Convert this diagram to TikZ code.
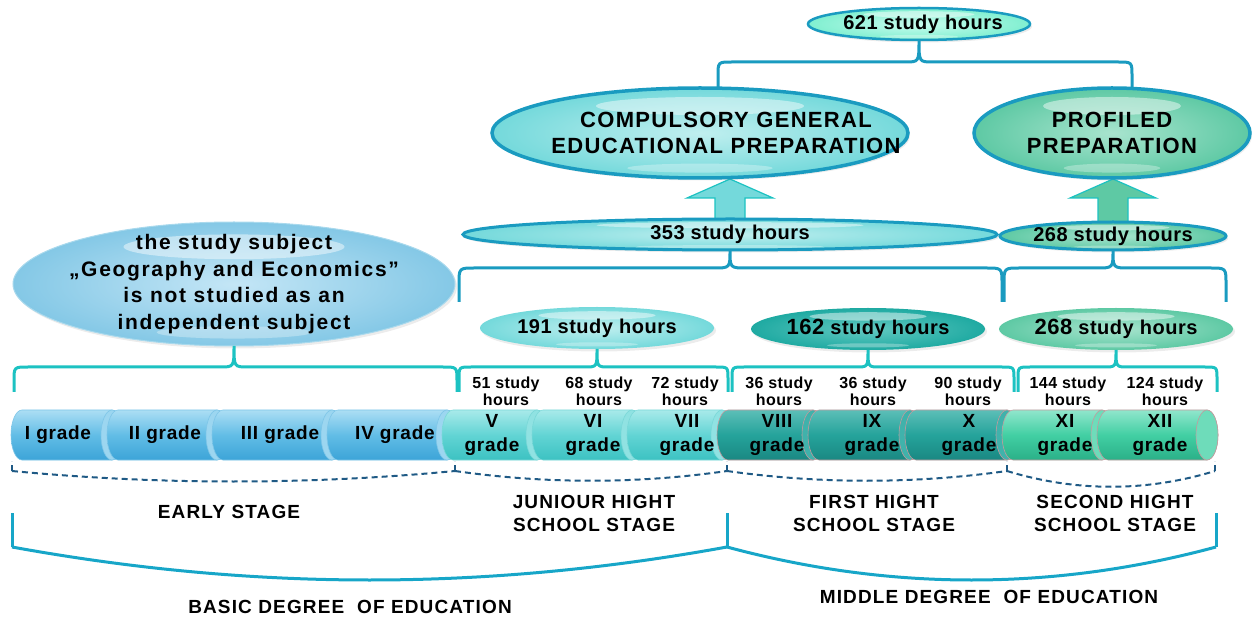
\documentclass[tikz,border=0pt]{standalone}
\usepackage{fontspec}
\setmainfont{Liberation Sans}
\newfontfamily\wideA[LetterSpace=8]{Liberation Sans}
\newfontfamily\wideB[LetterSpace=6]{Liberation Sans}
\newfontfamily\wideC[LetterSpace=4]{Liberation Sans}
\newfontfamily\wideD[LetterSpace=2.5]{Liberation Sans}
\newcommand\bignumsize{\fontsize{22}{22}\selectfont}
\usetikzlibrary{shapes.geometric,calc,backgrounds,shadows}

\definecolor{edgeblue}{HTML}{1A9BC0}
\definecolor{braceturq}{HTML}{1CC2C2}
\definecolor{bracedeep}{HTML}{17A6C8}
\definecolor{dashblue}{HTML}{1F5A85}
% oval fills
\definecolor{aquaIn}{HTML}{C8FCEE}\definecolor{aquaOut}{HTML}{80EFD0}
\definecolor{cyanIn}{HTML}{C0EFEF}\definecolor{cyanOut}{HTML}{74D9DB}
\definecolor{mintIn}{HTML}{A8E4CE}\definecolor{mintOut}{HTML}{5EC9A4}
\definecolor{skyIn}{HTML}{C4E6F6}\definecolor{skyOut}{HTML}{84C8E6}
\definecolor{tealIn}{HTML}{62C9C1}\definecolor{tealOut}{HTML}{1FAAA2}
% cylinder fills
\definecolor{bTop}{HTML}{ACDEF4}\definecolor{bMid}{HTML}{62BDE6}\definecolor{bBot}{HTML}{3CA4D8}
\definecolor{bFace}{HTML}{9CD6F0}\definecolor{bEdge}{HTML}{7EC6E8}
\definecolor{qTop}{HTML}{A8EAEA}\definecolor{qMid}{HTML}{62D4D4}\definecolor{qBot}{HTML}{3CC2C2}
\definecolor{qFace}{HTML}{90E2E2}\definecolor{qEdge}{HTML}{7AD8D8}
\definecolor{tTop}{HTML}{5CBEB7}\definecolor{tMid}{HTML}{25A39B}\definecolor{tBot}{HTML}{1A8882}
\definecolor{tFace}{HTML}{40B2AB}
\definecolor{gTop}{HTML}{90E6CC}\definecolor{gMid}{HTML}{42CFA3}\definecolor{gBot}{HTML}{2AB088}
\definecolor{gFace}{HTML}{6EDCBA}
\definecolor{rimPink}{HTML}{C49A9E}

% brace with its tip on the bottom of an oval: #1 oval, #2 left x, #3 right x,
% #4 y of the horizontal run, #5 y of the free ends, #6 corner size
\newcommand\ovalbrace[6]{%
  (#2,#5) -- (#2,#4+#6) .. controls (#2,#4) .. (#2+#6,#4)
  -- ($(#1.south |- 0,#4)+(-#6,0)$) .. controls (#1.south |- 0,#4) .. (#1.south)
  .. controls (#1.south |- 0,#4) .. ($(#1.south |- 0,#4)+(#6,0)$)
  -- (#3-#6,#4) .. controls (#3,#4) .. (#3,#4+#6) -- (#3,#5)}

% glossy highlight on an oval: #1 oval, #2 x radius, #3 y radius
\newcommand\gloss[3]{%
  \fill[white,opacity=.45] ($(#1.center)+(0,-0.6*#3)$) ellipse[x radius=0.5*#2, y radius=0.2*#3];
  \fill[white,opacity=.3] ($(#1.center)+(0,0.78*#3)$) ellipse[x radius=0.35*#2, y radius=0.1*#3];}

% one grade cylinder: #1 name, #2 left x, #3 right x, #4 colour set
\newcommand\cylseg[4]{%
  \path[cyl#4] (#2,410) arc[start angle=270,end angle=90,x radius=11,y radius=25]
     -- (#3,460) arc[start angle=90,end angle=-90,x radius=11,y radius=25] -- cycle;
  \path[face#4] (#3,435) ellipse[x radius=11, y radius=25];
  \coordinate (#1) at ({(#2+#3)/2},435);}

\begin{document}
\begin{tikzpicture}[x=1pt,y=-1pt,
  oval/.style={ellipse, inner sep=0pt, outer sep=0pt,
    drop shadow={opacity=0.15, shadow xshift=2pt, shadow yshift=-2.5pt}},
  hourtxt/.style={font=\wideD\bfseries\fontsize{20}{22}\selectfont, inner sep=0pt},
  captxt/.style={font=\wideB\bfseries\fontsize{22}{26}\selectfont, align=center, inner sep=0pt},
  geotxt/.style={font=\wideA\bfseries\fontsize{21}{26.5}\selectfont, align=center, inner sep=0pt},
  smalltxt/.style={font=\wideD\bfseries\fontsize{16}{17}\selectfont, align=center, inner sep=0pt},
  gradetxt/.style={font=\wideC\bfseries\fontsize{19}{24}\selectfont, align=center, inner sep=0pt},
  stagetxt/.style={font=\wideB\bfseries\fontsize{19}{23}\selectfont, align=center, inner sep=0pt},
  topbrace/.style={draw=edgeblue, line width=3pt},
  lowbrace/.style={draw=braceturq, line width=3pt},
  stagebrace/.style={draw=dashblue, line width=2pt, dash pattern=on 6pt off 4pt},
  degreebrace/.style={draw=bracedeep, line width=3pt},
  cylblue/.style={shade, top color=bTop, bottom color=bBot, middle color=bMid, draw=bEdge, line width=0.6pt},
  faceblue/.style={fill=bFace, draw=bEdge, line width=0.6pt},
  cylturq/.style={shade, top color=qTop, bottom color=qBot, middle color=qMid, draw=qEdge, line width=0.6pt},
  faceturq/.style={fill=qFace, draw=qEdge, line width=0.6pt},
  cylteal/.style={shade, top color=tTop, bottom color=tBot, middle color=tMid, draw=rimPink, line width=0.6pt},
  faceteal/.style={fill=tFace, draw=rimPink, line width=0.6pt},
  cylgreen/.style={shade, top color=gTop, bottom color=gBot, middle color=gMid, draw=rimPink, line width=0.6pt},
  facegreen/.style={fill=gFace, draw=rimPink, line width=0.6pt},
]
\useasboundingbox (0,0) rectangle (1253,617);

% ---------- ovals ----------
\node[oval, draw=edgeblue, line width=2.5pt, inner color=aquaIn, outer color=aquaOut,
      minimum width=222pt, minimum height=32pt] (h621) at (919,24) {};
\node[oval, draw=edgeblue, line width=3.5pt, inner color=cyanIn, outer color=cyanOut,
      minimum width=416pt, minimum height=90pt] (comp) at (700,133) {};
\node[oval, draw=edgeblue, line width=3.5pt, inner color=mintIn, outer color=mintOut,
      minimum width=276pt, minimum height=90pt] (prof) at (1112,133) {};
\node[oval, draw=edgeblue, line width=3pt, inner color=cyanIn, outer color=cyanOut,
      minimum width=534pt, minimum height=31pt] (h353) at (730,234.5) {};
\node[oval, draw=edgeblue, line width=3pt, inner color=mintIn, outer color=mintOut,
      minimum width=226pt, minimum height=28pt] (h268a) at (1113,236) {};
\node[oval, draw=skyOut!70!white, line width=1pt, inner color=skyIn, outer color=skyOut,
      minimum width=442pt, minimum height=124pt] (geo) at (234,284) {};
\node[oval, inner color=cyanIn, outer color=cyanOut,
      minimum width=234pt, minimum height=42pt] (h191) at (597,328) {};
\node[oval, inner color=tealIn, outer color=tealOut,
      minimum width=234pt, minimum height=42pt] (h162) at (868,329) {};
\node[oval, inner color=mintIn, outer color=mintOut,
      minimum width=234pt, minimum height=42pt] (h268b) at (1116,329) {};

\gloss{h621}{111}{16}
\gloss{comp}{208}{45}
\gloss{prof}{138}{45}
\gloss{h353}{267}{15.5}
\gloss{h268a}{113}{14}
\gloss{geo}{221}{62}
\gloss{h191}{117}{21}
\gloss{h162}{117}{21}
\gloss{h268b}{117}{21}

\node[hourtxt] (t621) at ($(h621)+(4,0)$) {621 study hours};
\node[captxt] (tcomp) at ($(comp)+(26,0)$) {COMPULSORY GENERAL\\EDUCATIONAL PREPARATION};
\node[captxt] (tprof) at (prof) {PROFILED\\PREPARATION};
\node[hourtxt] (t353) at (h353) {353 study hours};
\node[hourtxt] (t268a) at (h268a) {268 study hours};
\node[geotxt] (tgeo) at (geo) {the study subject\\„Geography and Economics”\\is not studied as an\\independent subject};
\node[hourtxt] (t191) at (h191) {191 study hours};
\node[hourtxt] (t162) at (h162) {{\bignumsize 162} study hours};
\node[hourtxt] (t268b) at (h268b) {{\bignumsize 268} study hours};

% ---------- braces under the ovals ----------
\draw[topbrace] \ovalbrace{h621}{718}{1132}{62}{90}{14};
\draw[topbrace] \ovalbrace{h353}{459}{1002}{268}{302}{16};
\draw[topbrace] \ovalbrace{h268a}{1004}{1226}{268}{302}{16};
\draw[lowbrace] \ovalbrace{geo}{14}{457}{367}{392}{14};
\draw[lowbrace] \ovalbrace{h191}{459}{728}{367}{392}{12};
\draw[lowbrace] \ovalbrace{h162}{732}{1014}{367}{392}{12};
\draw[lowbrace] \ovalbrace{h268b}{1018}{1217}{367}{392}{12};

% ---------- block arrows into the preparation ovals ----------
\begin{pgfonlayer}{background}
\path (h353.north) coordinate (ua0) (h353.north |- comp.south) coordinate (ua1);
\draw[fill=cyanOut, draw=braceturq, line width=1.2pt]
  ($(ua0)+(-15,8)$) -- ($(ua1)+(-15,20)$) -- ($(ua1)+(-43,20)$) -- ($(ua1)+(0,1)$)
  -- ($(ua1)+(43,20)$) -- ($(ua1)+(15,20)$) -- ($(ua0)+(15,8)$) -- cycle;
\path (h268a.north) coordinate (ub0) (h268a.north |- prof.south) coordinate (ub1);
\draw[fill=mintOut, draw=braceturq, line width=1.2pt]
  ($(ub0)+(-15,8)$) -- ($(ub1)+(-15,20)$) -- ($(ub1)+(-43,20)$) -- ($(ub1)+(0,1)$)
  -- ($(ub1)+(43,20)$) -- ($(ub1)+(15,20)$) -- ($(ub0)+(15,8)$) -- cycle;
\end{pgfonlayer}

% ---------- study hours per grade ----------
\node[smalltxt] (s5)  at (506,391)  {51 study\\hours};
\node[smalltxt] (s6)  at (599,391)  {68 study\\hours};
\node[smalltxt] (s7)  at (685,391)  {72 study\\hours};
\node[smalltxt] (s8)  at (779,391)  {36 study\\hours};
\node[smalltxt] (s9)  at (873,391)  {36 study\\hours};
\node[smalltxt] (s10) at (968,391)  {90 study\\hours};
\node[smalltxt] (s11) at (1068,391) {144 study\\hours};
\node[smalltxt] (s12) at (1165,391) {124 study\\hours};

% ---------- grade cylinders ----------
\cylseg{g1}{22}{112}{blue}
\cylseg{g2}{118}{217}{blue}
\cylseg{g3}{223}{332}{blue}
\cylseg{g4}{338}{447}{blue}
\cylseg{g5}{453}{537}{turq}
\cylseg{g6}{543}{632}{turq}
\cylseg{g7}{638}{722}{turq}
\cylseg{g8}{728}{813}{teal}
\cylseg{g9}{819}{910}{teal}
\cylseg{g10}{916}{1007}{teal}
\cylseg{g11}{1013}{1102}{green}
\cylseg{g12}{1108}{1207}{green}

\node[gradetxt] (n1) at (58,435)   {I grade};
\node[gradetxt] (n2) at (165,435)  {II grade};
\node[gradetxt] (n3) at (280,435)  {III grade};
\node[gradetxt] (n4) at (395,435)  {IV grade};
\node[gradetxt] (n5) at (492,435)  {V\\grade};
\node[gradetxt] (n6) at (593,435)  {VI\\grade};
\node[gradetxt] (n7) at (687,435)  {VII\\grade};
\node[gradetxt] (n8) at (777,435)  {VIII\\grade};
\node[gradetxt] (n9) at (872,435)  {IX\\grade};
\node[gradetxt] (n10) at (969,435) {X\\grade};
\node[gradetxt] (n11) at (1065,435){XI\\grade};
\node[gradetxt] (n12) at (1160,435){XII\\grade};

% ---------- stage braces ----------
\coordinate (k0) at (12,471);
\coordinate (k1) at (455,471);
\coordinate (k2) at (727,471);
\coordinate (k3) at (1007,471);
\coordinate (k4) at (1215,471);
\foreach \k in {k0,k1,k2,k3,k4} \draw[stagebrace] (\k) -- ++(0,-10);
\draw[stagebrace] (k0) .. controls (160,485) and (307,485) .. (k1);
\draw[stagebrace] (k1) .. controls (546,484) and (636,484) .. (k2);
\draw[stagebrace] (k2) .. controls (820,484) and (914,484) .. (k3);
\draw[stagebrace] (k3) .. controls (1076,492) and (1146,492) .. (k4);

\node[stagetxt] (st1) at (229,512) {EARLY STAGE};
\node[stagetxt] (st2) at (594,513) {JUNIOUR HIGHT\\SCHOOL STAGE};
\node[stagetxt] (st3) at (874,513) {FIRST HIGHT\\SCHOOL STAGE};
\node[stagetxt] (st4) at (1115,513) {SECOND HIGHT\\SCHOOL STAGE};

% ---------- degree braces ----------
\coordinate (d0) at (12,547);
\coordinate (d1) at (727,547);
\coordinate (d2) at (1216,547);
\foreach \d in {d0,d1,d2} \draw[degreebrace] (\d) -- ++(0,-34);
\draw[degreebrace] (d0) .. controls (254,591) and (485,591) .. (d1);
\draw[degreebrace] (d1) .. controls (890,591) and (1053,591) .. (d2);

\node[stagetxt] (dg1) at (350,607) {BASIC DEGREE~ OF EDUCATION};
\node[stagetxt] (dg2) at (989,597) {MIDDLE DEGREE~ OF EDUCATION};
\end{tikzpicture}
\end{document}
